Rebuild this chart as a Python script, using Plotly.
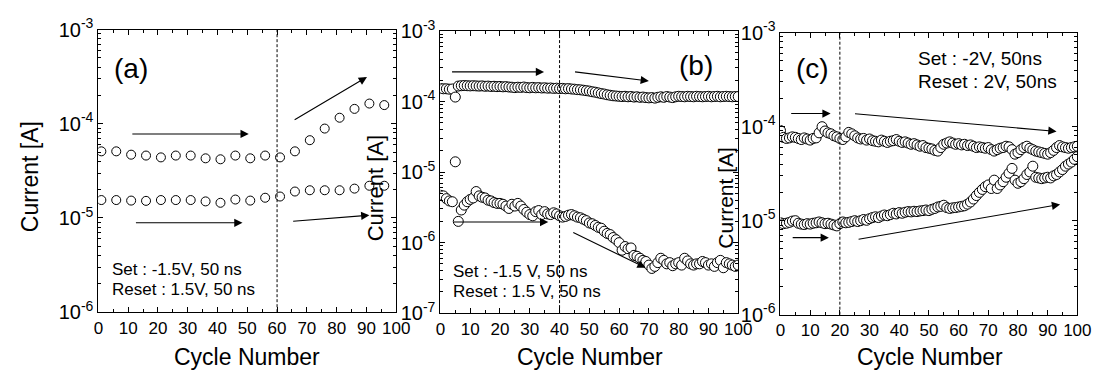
import numpy as np
import plotly.graph_objects as go

W, H = 1110, 383

# ---------------- data ----------------
cycles_a = list(range(1, 97, 5))
upper_a = [5.1e-5, 5.1e-5, 4.7e-5, 4.6e-5, 4.4e-5, 4.6e-5, 4.6e-5, 4.3e-5, 4.2e-5, 4.6e-5,
           4.3e-5, 4.6e-5, 4.4e-5, 5.1e-5, 6.7e-5, 8.9e-5, 1.16e-4, 1.44e-4, 1.64e-4, 1.58e-4]
lower_a = [1.55e-5, 1.55e-5, 1.53e-5, 1.52e-5, 1.55e-5, 1.55e-5, 1.55e-5, 1.5e-5, 1.45e-5, 1.57e-5,
           1.53e-5, 1.64e-5, 1.69e-5, 1.91e-5, 1.97e-5, 1.97e-5, 1.97e-5, 2.05e-5, 2.2e-5, 2.2e-5]

cycles_b = list(range(0, 101))
upper_b_e4 = [1.53, 1.52, 1.52, 1.50, 1.51, 1.16, 1.66, 1.68, 1.69, 1.68,
              1.67, 1.68, 1.67, 1.66, 1.67, 1.65, 1.66, 1.64, 1.65, 1.63,
              1.64, 1.62, 1.63, 1.61, 1.60, 1.58, 1.60, 1.59, 1.61, 1.58,
              1.57, 1.59, 1.57, 1.58, 1.56, 1.57, 1.55, 1.56, 1.54, 1.55,
              1.53, 1.54, 1.52, 1.53, 1.51, 1.50, 1.48, 1.47, 1.45, 1.43,
              1.41, 1.38, 1.36, 1.33, 1.30, 1.28, 1.25, 1.23, 1.21, 1.20,
              1.19, 1.18, 1.19, 1.17, 1.18, 1.16, 1.17, 1.15, 1.16, 1.14,
              1.13, 1.14, 1.12, 1.15, 1.17, 1.15, 1.18, 1.16, 1.14, 1.17,
              1.19, 1.18, 1.17, 1.19, 1.18, 1.17, 1.19, 1.18, 1.17, 1.18,
              1.19, 1.17, 1.18, 1.19, 1.17, 1.18, 1.19, 1.18, 1.17, 1.18, 1.18]
lower_b_e6 = [4.7, 4.6, 4.2, 3.9, 3.8, 14.0, 2.0, 2.9, 3.4, 3.8,
              4.1, 4.3, 5.3, 4.6, 4.4, 4.3, 4.0, 3.9, 3.7, 3.6,
              3.6, 3.5, 3.3, 3.05, 3.5, 3.3, 3.6, 3.3, 2.95, 2.7,
              2.5, 2.4, 2.75, 2.85, 2.5, 2.75, 2.55, 2.5, 2.65, 2.55,
              2.4, 2.3, 2.35, 2.45, 2.5, 2.4, 2.3, 2.25, 2.15, 2.05,
              1.9, 1.85, 1.75, 1.65, 1.6, 1.45, 1.35, 1.3, 1.18, 1.1,
              1.0, 0.78, 0.88, 0.82, 0.84, 0.66, 0.64, 0.6, 0.56, 0.54,
              0.48, 0.43, 0.46, 0.52, 0.6, 0.56, 0.5, 0.52, 0.47, 0.5,
              0.52, 0.48, 0.6, 0.55, 0.5, 0.48, 0.5, 0.5, 0.54, 0.52,
              0.48, 0.5, 0.46, 0.52, 0.56, 0.44, 0.52, 0.5, 0.48, 0.46, 0.48]

cycles_c = list(range(0, 101))
upper_c_e5 = [9.1, 7.7, 7.5, 7.6, 7.8, 7.7, 7.5, 7.3, 7.6, 7.4,
              7.2, 7.5, 7.6, 8.6, 10.0, 9.0, 8.6, 8.4, 8.0, 7.8,
              7.5, 7.3, 7.8, 8.7, 8.4, 8.0, 7.6, 7.4, 7.5, 7.2,
              7.4, 7.1, 7.0, 6.9, 7.2, 7.0, 6.8, 7.0, 7.1, 7.3,
              7.0, 6.8, 6.9, 6.7, 6.5, 6.6, 6.4, 6.2, 6.3, 6.0,
              5.9, 5.8, 5.6, 5.5, 6.0, 6.5, 6.7, 6.9, 6.7, 6.5,
              6.6, 6.4, 6.5, 6.3, 6.4, 6.2, 6.0, 6.1, 6.0, 5.9,
              6.0, 5.7, 5.5, 5.7, 5.9, 6.0, 6.2, 6.1, 5.7, 5.1,
              5.3, 5.7, 6.0, 6.2, 5.9, 5.7, 5.5, 5.4, 5.3, 5.2,
              5.1, 5.3, 5.6, 6.0, 6.3, 6.1, 6.0, 5.9, 6.0, 6.1, 6.2]
lower_c_e5 = [0.95, 0.93, 0.94, 0.96, 0.99, 1.0, 0.94, 0.92, 0.91, 0.93,
              0.92, 0.94, 0.95, 0.97, 0.95, 0.93, 0.94, 0.92, 0.90, 0.88,
              0.93, 0.97, 0.95, 0.96, 0.98, 1.0, 0.98, 1.0, 1.03, 1.01,
              1.05, 1.08, 1.1, 1.08, 1.12, 1.15, 1.13, 1.16, 1.2, 1.18,
              1.22, 1.2, 1.23, 1.25, 1.24, 1.26, 1.25, 1.27, 1.28, 1.3,
              1.28, 1.32, 1.35, 1.4, 1.42, 1.46, 1.38, 1.35, 1.37, 1.38,
              1.4, 1.42, 1.44, 1.5, 1.58, 1.7, 1.85, 2.0, 2.15, 2.3,
              2.4, 2.2, 2.7, 2.2, 2.4, 2.6, 2.9, 3.2, 3.6, 2.7,
              2.5, 2.6, 2.8, 3.1, 3.3, 3.8, 2.9, 2.85, 2.8, 2.85,
              2.9, 2.85, 3.0, 3.1, 3.3, 3.5, 3.8, 4.0, 4.2, 4.5, 4.8]

upper_b = [v * 1e-4 for v in upper_b_e4]
lower_b = [v * 1e-6 for v in lower_b_e6]
upper_c = [v * 1e-5 for v in upper_c_e5]
lower_c = [v * 1e-5 for v in lower_c_e5]

# arrows: (x_tail, I_tail, x_head, I_head)
arrows_a = [(10.9, 7.8e-5, 50.5, 7.8e-5), (12.1, 8.9e-6, 48.4, 8.9e-6),
            (65.4, 1.08e-4, 90.2, 3.14e-4), (64.9, 9.2e-6, 91.0, 1.07e-5)]
arrows_b = [(3.4, 2.64e-4, 34.8, 2.64e-4), (44.7, 2.66e-4, 70.0, 1.96e-4),
            (4.0, 1.96e-6, 36.2, 1.96e-6), (44.1, 1.42e-6, 68.9, 4.4e-7)]
arrows_c = [(3.1, 1.38e-4, 16.9, 1.38e-4), (24.6, 1.38e-4, 93.0, 8.9e-5),
            (3.6, 6.6e-6, 16.3, 6.6e-6), (25.8, 6.3e-6, 94.2, 1.49e-5)]

divider_a, divider_b, divider_c = 60, 40, 20

# ---------------- figure ----------------
FONT = "Liberation Sans, Arial, Helvetica, sans-serif"
fig = go.Figure()

panels = [
    dict(name="a", xa="x", ya="y", xs=cycles_a, ys=[upper_a, lower_a], yr=(-6, -3),
         dom_x=(95, 398), dom_y=(16.7, 319), msize=9, arrows=arrows_a, div=divider_a),
    dict(name="b", xa="x2", ya="y2", xs=cycles_b, ys=[upper_b, lower_b], yr=(-7, -3),
         dom_x=(443, 746), dom_y=(18.3, 320), msize=10, arrows=arrows_b, div=divider_b),
    dict(name="c", xa="x3", ya="y3", xs=cycles_c, ys=[upper_c, lower_c], yr=(-6, -3),
         dom_x=(789, 1091), dom_y=(20, 321.7), msize=10, arrows=arrows_c, div=divider_c),
]

annotations = []
shapes = []
for i, p in enumerate(panels):
    for ys in p["ys"]:
        fig.add_trace(go.Scatter(
            x=p["xs"], y=ys, mode="markers", xaxis=p["xa"], yaxis=p["ya"],
            marker=dict(symbol="circle", size=p["msize"], color="white",
                        line=dict(color="black", width=1)),
            showlegend=False, cliponaxis=True))
    suffix = "" if i == 0 else str(i + 1)
    lo, hi = p["yr"]
    decades = [10.0 ** k for k in range(lo, hi + 1)]
    minors = [m * 10.0 ** k for k in range(lo, hi) for m in range(2, 10)]
    fig.update_layout(**{
        "xaxis" + suffix: dict(
            domain=[p["dom_x"][0] / W, p["dom_x"][1] / W], range=[0, 100],
            anchor="y" + suffix, dtick=10, tick0=0, ticks="inside", ticklen=5,
            tickwidth=1, tickcolor="black", showline=True, linecolor="black",
            linewidth=1, mirror="allticks", showgrid=False, zeroline=False,
            tickfont=dict(family=FONT, size=17, color="black"),
            minor=dict(dtick=5, ticks="inside", ticklen=3, tickcolor="black")),
        "yaxis" + suffix: dict(
            domain=[1 - p["dom_y"][1] / H, 1 - p["dom_y"][0] / H], type="log",
            range=[lo, hi], anchor="x" + suffix, tickmode="array",
            tickvals=decades, ticktext=["10<sup>%d</sup>" % k for k in range(lo, hi + 1)],
            ticks="inside", ticklen=5, tickwidth=1, tickcolor="black",
            showline=True, linecolor="black", linewidth=1, mirror="allticks",
            showgrid=False, zeroline=False,
            tickfont=dict(family=FONT, size=20, color="black"),
            minor=dict(tickmode="array", tickvals=minors, ticks="inside",
                       ticklen=3, tickcolor="black")),
    })
    shapes.append(dict(type="line", xref=p["xa"], yref=p["ya"] + " domain",
                       x0=p["div"], x1=p["div"], y0=0, y1=1,
                       line=dict(color="black", width=1, dash="3px,2px")))
    for (x0, y0, x1, y1) in p["arrows"]:
        annotations.append(dict(
            x=x1, y=np.log10(y1), ax=x0, ay=np.log10(y0), xref=p["xa"], yref=p["ya"],
            axref=p["xa"], ayref=p["ya"], text="", showarrow=True, arrowhead=2,
            arrowsize=1.5, arrowwidth=1.1, arrowcolor="black"))


def ptext(text, px, py, size, xanchor="center", angle=0):
    annotations.append(dict(
        text=text, x=px / W, y=1 - py / H, xref="paper", yref="paper",
        xanchor=xanchor, yanchor="middle", showarrow=False, textangle=angle,
        font=dict(family=FONT, size=size, color="black")))


ptext("(a)", 128, 58, 28)
ptext("(b)", 703, 55, 28)
ptext("(c)", 822, 58, 28)
ptext("Set : -1.5V, 50 ns", 107, 273, 17, "left")
ptext("Reset : 1.5V, 50 ns", 107, 295, 17, "left")
ptext("Set : -1.5 V, 50 ns", 454, 276, 17, "left")
ptext("Reset : 1.5 V, 50 ns", 454, 297, 17, "left")
ptext("Set : -2V, 50ns", 927, 48, 19, "left")
ptext("Reset : 2V, 50ns", 927, 72, 19, "left")
ptext("Current [A]", 25, 174, 23, angle=-90)
ptext("Current [A]", 377, 187, 22, angle=-90)
ptext("Current [A]", 733, 196, 21, angle=-90)
ptext("Cycle Number", 246, 367, 23)
ptext("Cycle Number", 595, 367, 23)
ptext("Cycle Number", 941, 367, 23)

fig.update_layout(
    width=W, height=H, margin=dict(l=0, r=0, t=0, b=0),
    paper_bgcolor="white", plot_bgcolor="rgba(0,0,0,0)",
    annotations=annotations, shapes=shapes, showlegend=False,
    font=dict(family=FONT, color="black"))

fig.write_html("out.html")
